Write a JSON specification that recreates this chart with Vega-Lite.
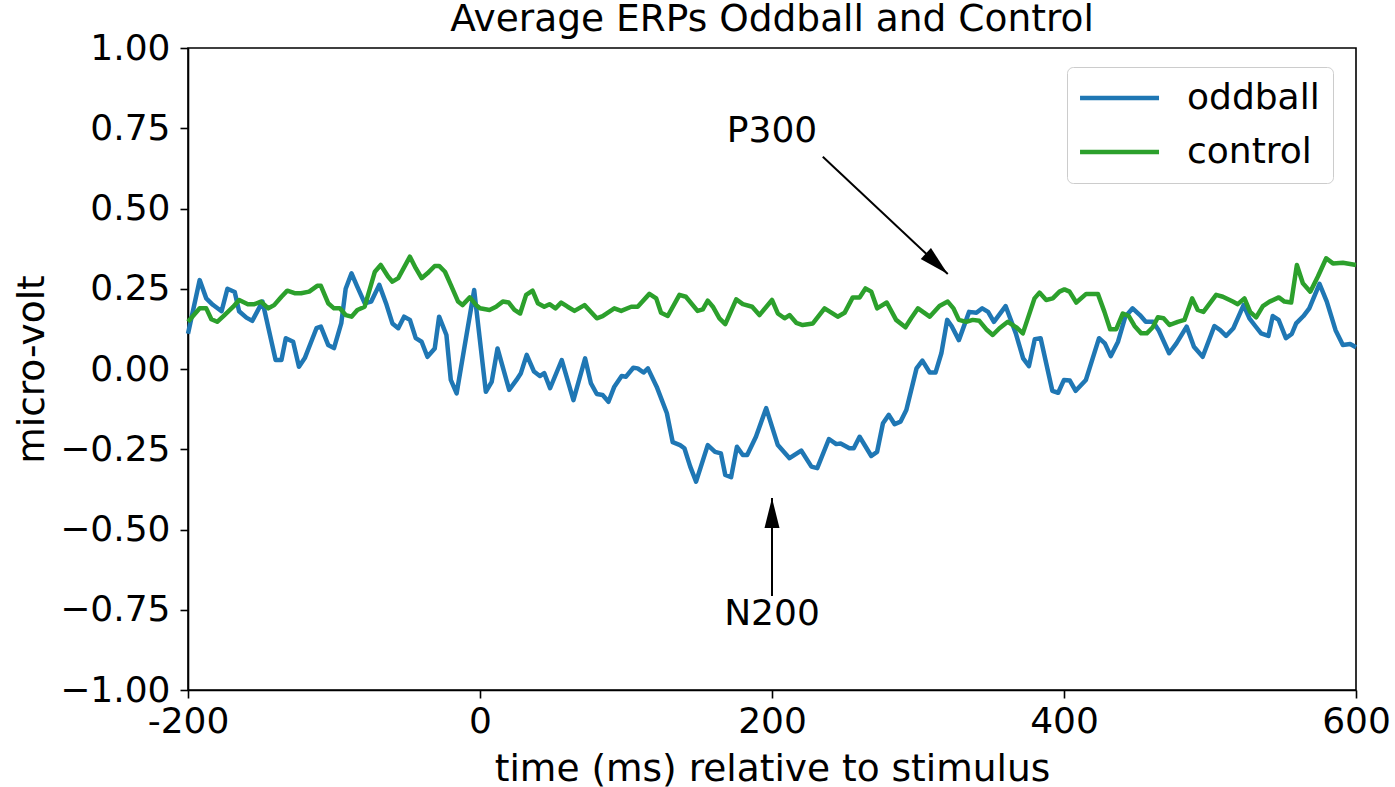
{
  "$schema": "https://vega.github.io/schema/vega-lite/v6.json",
  "width": 1168,
  "height": 642,
  "autosize": {"type": "none"},
  "padding": {"left": 188, "top": 48, "right": 39, "bottom": 97},
  "background": "white",
  "title": {
    "text": "Average ERPs Oddball and Control",
    "fontSize": 37.5,
    "font": "DejaVu Sans",
    "fontWeight": "normal",
    "color": "black",
    "anchor": "middle",
    "frame": "group",
    "baseline": "alphabetic",
    "offset": -38
  },
  "config": {
    "view": {"stroke": "black", "strokeWidth": 1.6},
    "axis": {
      "grid": false,
      "labelFont": "DejaVu Sans",
      "titleFont": "DejaVu Sans",
      "labelFontSize": 36,
      "titleFontSize": 37.5,
      "titleFontWeight": "normal",
      "labelColor": "black",
      "titleColor": "black",
      "domainColor": "black",
      "domainWidth": 1.6,
      "tickColor": "black",
      "tickWidth": 1.6,
      "tickSize": 8,
      "labelOverlap": false,
      "labelFlush": false
    },
    "legend": {
      "labelFont": "DejaVu Sans",
      "labelFontSize": 36,
      "labelColor": "black"
    }
  },
  "datasets": {
    "erp": [
      {"t": -200, "v": 0.11, "series": "oddball"},
      {"t": -192, "v": 0.277, "series": "oddball"},
      {"t": -187.5, "v": 0.22, "series": "oddball"},
      {"t": -183, "v": 0.2, "series": "oddball"},
      {"t": -177, "v": 0.18, "series": "oddball"},
      {"t": -173, "v": 0.25, "series": "oddball"},
      {"t": -168, "v": 0.24, "series": "oddball"},
      {"t": -165, "v": 0.18, "series": "oddball"},
      {"t": -160, "v": 0.16, "series": "oddball"},
      {"t": -156, "v": 0.15, "series": "oddball"},
      {"t": -149, "v": 0.21, "series": "oddball"},
      {"t": -140, "v": 0.028, "series": "oddball"},
      {"t": -136, "v": 0.028, "series": "oddball"},
      {"t": -133, "v": 0.096, "series": "oddball"},
      {"t": -128, "v": 0.085, "series": "oddball"},
      {"t": -124, "v": 0.007, "series": "oddball"},
      {"t": -120, "v": 0.034, "series": "oddball"},
      {"t": -112, "v": 0.127, "series": "oddball"},
      {"t": -109, "v": 0.132, "series": "oddball"},
      {"t": -104, "v": 0.075, "series": "oddball"},
      {"t": -100, "v": 0.065, "series": "oddball"},
      {"t": -95, "v": 0.143, "series": "oddball"},
      {"t": -92, "v": 0.25, "series": "oddball"},
      {"t": -88, "v": 0.298, "series": "oddball"},
      {"t": -84, "v": 0.256, "series": "oddball"},
      {"t": -79, "v": 0.205, "series": "oddball"},
      {"t": -74.5, "v": 0.21, "series": "oddball"},
      {"t": -69, "v": 0.262, "series": "oddball"},
      {"t": -64, "v": 0.2, "series": "oddball"},
      {"t": -60, "v": 0.142, "series": "oddball"},
      {"t": -56, "v": 0.127, "series": "oddball"},
      {"t": -52, "v": 0.163, "series": "oddball"},
      {"t": -48, "v": 0.153, "series": "oddball"},
      {"t": -44, "v": 0.096, "series": "oddball"},
      {"t": -40, "v": 0.085, "series": "oddball"},
      {"t": -36, "v": 0.038, "series": "oddball"},
      {"t": -31, "v": 0.064, "series": "oddball"},
      {"t": -28, "v": 0.163, "series": "oddball"},
      {"t": -23, "v": 0.106, "series": "oddball"},
      {"t": -20, "v": -0.034, "series": "oddball"},
      {"t": -16, "v": -0.076, "series": "oddball"},
      {"t": -11, "v": 0.059, "series": "oddball"},
      {"t": -4, "v": 0.246, "series": "oddball"},
      {"t": 4, "v": -0.071, "series": "oddball"},
      {"t": 8, "v": -0.04, "series": "oddball"},
      {"t": 12, "v": 0.064, "series": "oddball"},
      {"t": 20, "v": -0.065, "series": "oddball"},
      {"t": 25, "v": -0.034, "series": "oddball"},
      {"t": 28, "v": -0.013, "series": "oddball"},
      {"t": 32, "v": 0.044, "series": "oddball"},
      {"t": 37, "v": -0.008, "series": "oddball"},
      {"t": 41, "v": -0.022, "series": "oddball"},
      {"t": 44, "v": -0.013, "series": "oddball"},
      {"t": 48, "v": -0.06, "series": "oddball"},
      {"t": 56, "v": 0.028, "series": "oddball"},
      {"t": 64, "v": -0.097, "series": "oddball"},
      {"t": 72, "v": 0.033, "series": "oddball"},
      {"t": 76, "v": -0.045, "series": "oddball"},
      {"t": 80, "v": -0.078, "series": "oddball"},
      {"t": 84, "v": -0.081, "series": "oddball"},
      {"t": 88, "v": -0.102, "series": "oddball"},
      {"t": 92, "v": -0.055, "series": "oddball"},
      {"t": 97, "v": -0.022, "series": "oddball"},
      {"t": 100, "v": -0.024, "series": "oddball"},
      {"t": 105, "v": 0.004, "series": "oddball"},
      {"t": 108, "v": 0.002, "series": "oddball"},
      {"t": 112, "v": -0.011, "series": "oddball"},
      {"t": 115, "v": 0.002, "series": "oddball"},
      {"t": 121, "v": -0.055, "series": "oddball"},
      {"t": 128, "v": -0.138, "series": "oddball"},
      {"t": 132, "v": -0.228, "series": "oddball"},
      {"t": 137, "v": -0.237, "series": "oddball"},
      {"t": 140, "v": -0.247, "series": "oddball"},
      {"t": 144, "v": -0.304, "series": "oddball"},
      {"t": 148, "v": -0.351, "series": "oddball"},
      {"t": 156, "v": -0.237, "series": "oddball"},
      {"t": 161, "v": -0.258, "series": "oddball"},
      {"t": 165, "v": -0.263, "series": "oddball"},
      {"t": 168, "v": -0.33, "series": "oddball"},
      {"t": 172, "v": -0.337, "series": "oddball"},
      {"t": 176, "v": -0.242, "series": "oddball"},
      {"t": 180, "v": -0.268, "series": "oddball"},
      {"t": 183, "v": -0.268, "series": "oddball"},
      {"t": 189, "v": -0.211, "series": "oddball"},
      {"t": 196, "v": -0.122, "series": "oddball"},
      {"t": 204, "v": -0.237, "series": "oddball"},
      {"t": 212, "v": -0.278, "series": "oddball"},
      {"t": 220, "v": -0.254, "series": "oddball"},
      {"t": 227, "v": -0.304, "series": "oddball"},
      {"t": 231, "v": -0.309, "series": "oddball"},
      {"t": 239, "v": -0.218, "series": "oddball"},
      {"t": 244, "v": -0.234, "series": "oddball"},
      {"t": 247, "v": -0.232, "series": "oddball"},
      {"t": 253, "v": -0.247, "series": "oddball"},
      {"t": 256, "v": -0.247, "series": "oddball"},
      {"t": 260, "v": -0.211, "series": "oddball"},
      {"t": 268, "v": -0.271, "series": "oddball"},
      {"t": 272, "v": -0.258, "series": "oddball"},
      {"t": 276, "v": -0.169, "series": "oddball"},
      {"t": 280, "v": -0.143, "series": "oddball"},
      {"t": 284, "v": -0.172, "series": "oddball"},
      {"t": 288, "v": -0.164, "series": "oddball"},
      {"t": 292, "v": -0.128, "series": "oddball"},
      {"t": 299, "v": 0.002, "series": "oddball"},
      {"t": 303, "v": 0.026, "series": "oddball"},
      {"t": 308, "v": -0.011, "series": "oddball"},
      {"t": 312, "v": -0.011, "series": "oddball"},
      {"t": 316, "v": 0.049, "series": "oddball"},
      {"t": 320, "v": 0.153, "series": "oddball"},
      {"t": 323, "v": 0.134, "series": "oddball"},
      {"t": 328, "v": 0.09, "series": "oddball"},
      {"t": 335, "v": 0.178, "series": "oddball"},
      {"t": 340, "v": 0.175, "series": "oddball"},
      {"t": 344, "v": 0.189, "series": "oddball"},
      {"t": 348, "v": 0.178, "series": "oddball"},
      {"t": 352, "v": 0.147, "series": "oddball"},
      {"t": 360, "v": 0.196, "series": "oddball"},
      {"t": 367, "v": 0.111, "series": "oddball"},
      {"t": 372, "v": 0.033, "series": "oddball"},
      {"t": 376, "v": 0.009, "series": "oddball"},
      {"t": 380, "v": 0.093, "series": "oddball"},
      {"t": 384, "v": 0.096, "series": "oddball"},
      {"t": 392, "v": -0.068, "series": "oddball"},
      {"t": 396, "v": -0.074, "series": "oddball"},
      {"t": 400, "v": -0.034, "series": "oddball"},
      {"t": 404, "v": -0.036, "series": "oddball"},
      {"t": 408, "v": -0.068, "series": "oddball"},
      {"t": 415, "v": -0.034, "series": "oddball"},
      {"t": 424, "v": 0.096, "series": "oddball"},
      {"t": 428, "v": 0.08, "series": "oddball"},
      {"t": 432, "v": 0.04, "series": "oddball"},
      {"t": 437, "v": 0.085, "series": "oddball"},
      {"t": 442, "v": 0.163, "series": "oddball"},
      {"t": 447, "v": 0.189, "series": "oddball"},
      {"t": 452, "v": 0.168, "series": "oddball"},
      {"t": 456, "v": 0.147, "series": "oddball"},
      {"t": 461, "v": 0.147, "series": "oddball"},
      {"t": 465, "v": 0.119, "series": "oddball"},
      {"t": 472, "v": 0.049, "series": "oddball"},
      {"t": 477, "v": 0.08, "series": "oddball"},
      {"t": 484, "v": 0.132, "series": "oddball"},
      {"t": 489, "v": 0.069, "series": "oddball"},
      {"t": 495, "v": 0.038, "series": "oddball"},
      {"t": 503, "v": 0.134, "series": "oddball"},
      {"t": 507, "v": 0.121, "series": "oddball"},
      {"t": 511, "v": 0.103, "series": "oddball"},
      {"t": 516, "v": 0.127, "series": "oddball"},
      {"t": 523, "v": 0.199, "series": "oddball"},
      {"t": 527, "v": 0.158, "series": "oddball"},
      {"t": 531, "v": 0.134, "series": "oddball"},
      {"t": 535, "v": 0.111, "series": "oddball"},
      {"t": 540, "v": 0.103, "series": "oddball"},
      {"t": 543, "v": 0.165, "series": "oddball"},
      {"t": 547, "v": 0.153, "series": "oddball"},
      {"t": 552, "v": 0.096, "series": "oddball"},
      {"t": 556, "v": 0.109, "series": "oddball"},
      {"t": 559, "v": 0.142, "series": "oddball"},
      {"t": 564, "v": 0.165, "series": "oddball"},
      {"t": 568, "v": 0.189, "series": "oddball"},
      {"t": 575, "v": 0.265, "series": "oddball"},
      {"t": 580, "v": 0.21, "series": "oddball"},
      {"t": 586, "v": 0.121, "series": "oddball"},
      {"t": 591, "v": 0.075, "series": "oddball"},
      {"t": 596, "v": 0.078, "series": "oddball"},
      {"t": 600, "v": 0.068, "series": "oddball"},
      {"t": -200, "v": 0.147, "series": "control"},
      {"t": -192, "v": 0.189, "series": "control"},
      {"t": -187.5, "v": 0.189, "series": "control"},
      {"t": -184, "v": 0.155, "series": "control"},
      {"t": -180, "v": 0.147, "series": "control"},
      {"t": -175, "v": 0.168, "series": "control"},
      {"t": -169, "v": 0.194, "series": "control"},
      {"t": -165, "v": 0.215, "series": "control"},
      {"t": -159, "v": 0.202, "series": "control"},
      {"t": -154.5, "v": 0.202, "series": "control"},
      {"t": -150, "v": 0.21, "series": "control"},
      {"t": -145, "v": 0.189, "series": "control"},
      {"t": -141, "v": 0.199, "series": "control"},
      {"t": -136, "v": 0.225, "series": "control"},
      {"t": -132, "v": 0.244, "series": "control"},
      {"t": -127, "v": 0.236, "series": "control"},
      {"t": -122.5, "v": 0.236, "series": "control"},
      {"t": -117, "v": 0.241, "series": "control"},
      {"t": -111.5, "v": 0.259, "series": "control"},
      {"t": -109, "v": 0.259, "series": "control"},
      {"t": -104, "v": 0.205, "series": "control"},
      {"t": -100, "v": 0.189, "series": "control"},
      {"t": -96, "v": 0.189, "series": "control"},
      {"t": -92, "v": 0.168, "series": "control"},
      {"t": -88, "v": 0.163, "series": "control"},
      {"t": -84, "v": 0.184, "series": "control"},
      {"t": -79, "v": 0.194, "series": "control"},
      {"t": -72, "v": 0.303, "series": "control"},
      {"t": -68, "v": 0.324, "series": "control"},
      {"t": -63, "v": 0.288, "series": "control"},
      {"t": -60, "v": 0.272, "series": "control"},
      {"t": -56, "v": 0.283, "series": "control"},
      {"t": -48, "v": 0.35, "series": "control"},
      {"t": -44, "v": 0.314, "series": "control"},
      {"t": -40, "v": 0.283, "series": "control"},
      {"t": -36, "v": 0.298, "series": "control"},
      {"t": -31, "v": 0.321, "series": "control"},
      {"t": -28, "v": 0.321, "series": "control"},
      {"t": -24, "v": 0.303, "series": "control"},
      {"t": -20, "v": 0.262, "series": "control"},
      {"t": -15, "v": 0.21, "series": "control"},
      {"t": -12, "v": 0.199, "series": "control"},
      {"t": -7, "v": 0.223, "series": "control"},
      {"t": -2.6, "v": 0.199, "series": "control"},
      {"t": 0, "v": 0.189, "series": "control"},
      {"t": 6.5, "v": 0.184, "series": "control"},
      {"t": 11, "v": 0.194, "series": "control"},
      {"t": 15.6, "v": 0.21, "series": "control"},
      {"t": 19.7, "v": 0.207, "series": "control"},
      {"t": 23.6, "v": 0.184, "series": "control"},
      {"t": 27.5, "v": 0.173, "series": "control"},
      {"t": 31.6, "v": 0.231, "series": "control"},
      {"t": 36, "v": 0.244, "series": "control"},
      {"t": 39.6, "v": 0.205, "series": "control"},
      {"t": 44, "v": 0.194, "series": "control"},
      {"t": 47.6, "v": 0.202, "series": "control"},
      {"t": 51.7, "v": 0.189, "series": "control"},
      {"t": 55.6, "v": 0.207, "series": "control"},
      {"t": 60, "v": 0.194, "series": "control"},
      {"t": 64.7, "v": 0.181, "series": "control"},
      {"t": 71.6, "v": 0.199, "series": "control"},
      {"t": 80, "v": 0.158, "series": "control"},
      {"t": 84, "v": 0.165, "series": "control"},
      {"t": 92, "v": 0.189, "series": "control"},
      {"t": 96.7, "v": 0.181, "series": "control"},
      {"t": 103.6, "v": 0.194, "series": "control"},
      {"t": 108, "v": 0.194, "series": "control"},
      {"t": 116, "v": 0.234, "series": "control"},
      {"t": 120.7, "v": 0.22, "series": "control"},
      {"t": 124, "v": 0.175, "series": "control"},
      {"t": 128.6, "v": 0.165, "series": "control"},
      {"t": 136.6, "v": 0.231, "series": "control"},
      {"t": 141, "v": 0.225, "series": "control"},
      {"t": 149, "v": 0.181, "series": "control"},
      {"t": 152.6, "v": 0.186, "series": "control"},
      {"t": 156, "v": 0.213, "series": "control"},
      {"t": 159.5, "v": 0.194, "series": "control"},
      {"t": 164, "v": 0.158, "series": "control"},
      {"t": 168, "v": 0.14, "series": "control"},
      {"t": 175.5, "v": 0.217, "series": "control"},
      {"t": 180, "v": 0.202, "series": "control"},
      {"t": 186.4, "v": 0.194, "series": "control"},
      {"t": 191.4, "v": 0.168, "series": "control"},
      {"t": 200, "v": 0.215, "series": "control"},
      {"t": 204, "v": 0.173, "series": "control"},
      {"t": 208.6, "v": 0.158, "series": "control"},
      {"t": 212, "v": 0.168, "series": "control"},
      {"t": 216.6, "v": 0.144, "series": "control"},
      {"t": 221, "v": 0.137, "series": "control"},
      {"t": 228, "v": 0.142, "series": "control"},
      {"t": 236, "v": 0.189, "series": "control"},
      {"t": 245, "v": 0.163, "series": "control"},
      {"t": 249.7, "v": 0.175, "series": "control"},
      {"t": 255.3, "v": 0.223, "series": "control"},
      {"t": 260, "v": 0.223, "series": "control"},
      {"t": 264, "v": 0.251, "series": "control"},
      {"t": 268, "v": 0.241, "series": "control"},
      {"t": 272, "v": 0.189, "series": "control"},
      {"t": 278.6, "v": 0.207, "series": "control"},
      {"t": 285, "v": 0.153, "series": "control"},
      {"t": 291.4, "v": 0.13, "series": "control"},
      {"t": 295.3, "v": 0.158, "series": "control"},
      {"t": 300, "v": 0.189, "series": "control"},
      {"t": 308, "v": 0.163, "series": "control"},
      {"t": 314.7, "v": 0.196, "series": "control"},
      {"t": 320.4, "v": 0.21, "series": "control"},
      {"t": 324.3, "v": 0.189, "series": "control"},
      {"t": 328, "v": 0.153, "series": "control"},
      {"t": 333, "v": 0.147, "series": "control"},
      {"t": 337.5, "v": 0.153, "series": "control"},
      {"t": 342, "v": 0.15, "series": "control"},
      {"t": 346.7, "v": 0.124, "series": "control"},
      {"t": 351.2, "v": 0.106, "series": "control"},
      {"t": 355.8, "v": 0.127, "series": "control"},
      {"t": 361.5, "v": 0.147, "series": "control"},
      {"t": 367.3, "v": 0.13, "series": "control"},
      {"t": 371.8, "v": 0.111, "series": "control"},
      {"t": 379.8, "v": 0.22, "series": "control"},
      {"t": 383.2, "v": 0.238, "series": "control"},
      {"t": 387.8, "v": 0.215, "series": "control"},
      {"t": 392.3, "v": 0.22, "series": "control"},
      {"t": 396.9, "v": 0.241, "series": "control"},
      {"t": 400.3, "v": 0.248, "series": "control"},
      {"t": 403.8, "v": 0.241, "series": "control"},
      {"t": 408.4, "v": 0.207, "series": "control"},
      {"t": 415.2, "v": 0.234, "series": "control"},
      {"t": 423.2, "v": 0.234, "series": "control"},
      {"t": 427.7, "v": 0.178, "series": "control"},
      {"t": 431.6, "v": 0.124, "series": "control"},
      {"t": 435.8, "v": 0.124, "series": "control"},
      {"t": 440.3, "v": 0.173, "series": "control"},
      {"t": 444.4, "v": 0.165, "series": "control"},
      {"t": 448.3, "v": 0.134, "series": "control"},
      {"t": 452.9, "v": 0.111, "series": "control"},
      {"t": 456.7, "v": 0.111, "series": "control"},
      {"t": 460.8, "v": 0.13, "series": "control"},
      {"t": 464.3, "v": 0.161, "series": "control"},
      {"t": 468.2, "v": 0.158, "series": "control"},
      {"t": 472.3, "v": 0.137, "series": "control"},
      {"t": 477.9, "v": 0.147, "series": "control"},
      {"t": 482.5, "v": 0.153, "series": "control"},
      {"t": 487.8, "v": 0.22, "series": "control"},
      {"t": 491.6, "v": 0.184, "series": "control"},
      {"t": 495.5, "v": 0.178, "series": "control"},
      {"t": 504.2, "v": 0.231, "series": "control"},
      {"t": 508.8, "v": 0.225, "series": "control"},
      {"t": 515.6, "v": 0.21, "series": "control"},
      {"t": 519, "v": 0.202, "series": "control"},
      {"t": 523.6, "v": 0.22, "series": "control"},
      {"t": 527.5, "v": 0.178, "series": "control"},
      {"t": 531.6, "v": 0.161, "series": "control"},
      {"t": 536.2, "v": 0.196, "series": "control"},
      {"t": 540.8, "v": 0.21, "series": "control"},
      {"t": 547.1, "v": 0.223, "series": "control"},
      {"t": 551, "v": 0.21, "series": "control"},
      {"t": 555.6, "v": 0.207, "series": "control"},
      {"t": 559.5, "v": 0.324, "series": "control"},
      {"t": 563.6, "v": 0.267, "series": "control"},
      {"t": 568.7, "v": 0.241, "series": "control"},
      {"t": 573.9, "v": 0.288, "series": "control"},
      {"t": 579.6, "v": 0.345, "series": "control"},
      {"t": 584.2, "v": 0.329, "series": "control"},
      {"t": 591, "v": 0.331, "series": "control"},
      {"t": 600, "v": 0.324, "series": "control"}
    ],
    "notes": [
      {"label": "P300", "tx": 200, "ty": 0.74, "x1": 234.8, "y1": 0.661, "x2": 320.4, "y2": 0.296},
      {"label": "N200", "tx": 200, "ty": -0.763, "x1": 200, "y1": -0.707, "x2": 200, "y2": -0.402}
    ]
  },
  "layer": [
    {
      "data": {"name": "erp"},
      "mark": {"type": "line", "strokeWidth": 4.5, "strokeJoin": "round"},
      "encoding": {
        "x": {
          "field": "t",
          "type": "quantitative",
          "title": "time (ms) relative to stimulus",
          "scale": {"domain": [-200, 600], "nice": false, "zero": false},
          "axis": {
            "values": [-200, 0, 200, 400, 600],
            "labelExpr": "datum.value < 0 ? '-' + abs(datum.value) : '' + datum.value",
            "labelPadding": 6,
            "titleY": 90,
            "titleBaseline": "alphabetic"
          }
        },
        "y": {
          "field": "v",
          "type": "quantitative",
          "title": "micro-volt",
          "scale": {"domain": [-1, 1], "nice": false, "zero": false},
          "axis": {
            "values": [-1, -0.75, -0.5, -0.25, 0, 0.25, 0.5, 0.75, 1],
            "format": ".2f",
            "labelPadding": 10,
            "titleAngle": 270,
            "titleX": -145,
            "titleY": 321,
            "titleAlign": "center",
            "titleBaseline": "alphabetic"
          }
        },
        "color": {
          "field": "series",
          "type": "nominal",
          "scale": {"domain": ["oddball", "control"], "range": ["#1f77b4", "#2ca02c"]},
          "legend": {
            "title": null,
            "orient": "none",
            "legendX": 879,
            "legendY": 19,
            "symbolType": "M-1.82,0L6.18,0",
            "symbolSize": 390,
            "symbolStrokeWidth": 4.5,
            "labelOffset": 71,
            "rowPadding": 18,
            "padding": 13,
            "strokeColor": "#cccccc",
            "fillColor": "white",
            "cornerRadius": 6
          }
        }
      }
    },
    {
      "data": {"name": "notes"},
      "mark": {"type": "rule", "strokeWidth": 2, "color": "black"},
      "encoding": {
        "x": {"field": "x1", "type": "quantitative", "title": "time (ms) relative to stimulus"},
        "y": {"field": "y1", "type": "quantitative", "title": "micro-volt"},
        "x2": {"field": "x2"},
        "y2": {"field": "y2"}
      }
    },
    {
      "data": {"name": "notes"},
      "mark": {"type": "point", "shape": "M0,0L-0.25,1L0.25,1Z", "size": 3600, "filled": true, "color": "black", "opacity": 1, "strokeWidth": 0},
      "encoding": {
        "x": {"field": "x2", "type": "quantitative", "title": "time (ms) relative to stimulus"},
        "y": {"field": "y2", "type": "quantitative", "title": "micro-volt"},
        "angle": {"condition": {"test": "datum.label === 'P300'", "value": 133}, "value": 0}
      }
    },
    {
      "data": {"name": "notes"},
      "mark": {"type": "text", "fontSize": 36, "font": "DejaVu Sans", "color": "black", "align": "center", "baseline": "middle"},
      "encoding": {
        "x": {"field": "tx", "type": "quantitative", "title": "time (ms) relative to stimulus"},
        "y": {"field": "ty", "type": "quantitative", "title": "micro-volt"},
        "text": {"field": "label"}
      }
    }
  ]
}
